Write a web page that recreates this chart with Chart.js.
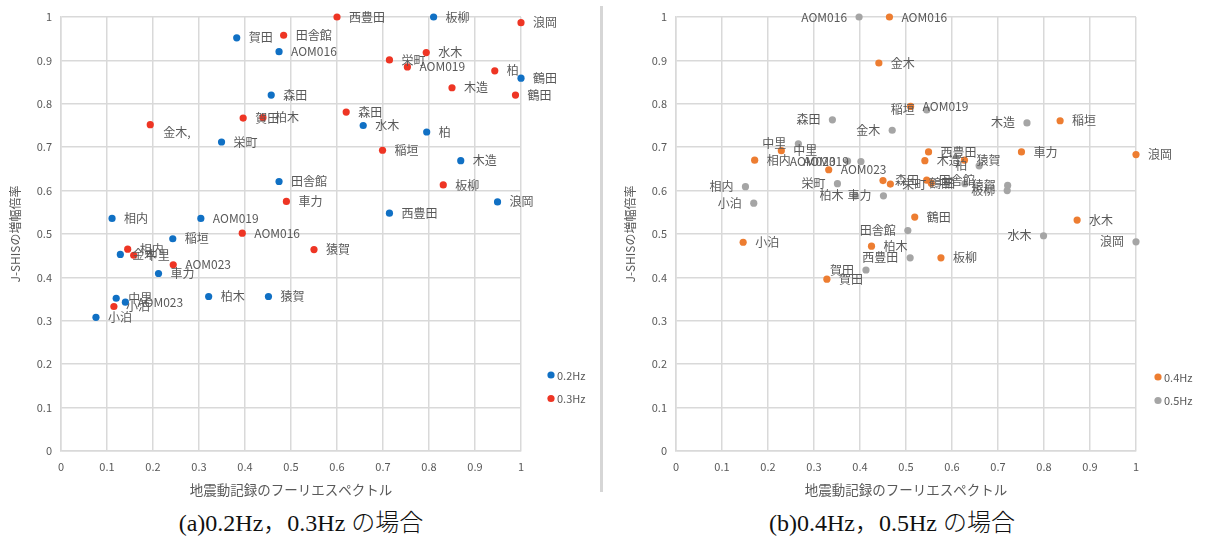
<!DOCTYPE html>
<html>
<head>
<meta charset="utf-8">
<script src="https://cdn.jsdelivr.net/npm/chart.js@4.4.1/dist/chart.umd.min.js"></script>
<style>
  html, body { margin: 0; padding: 0; background: #fff; }
  body { width: 1209px; height: 538px; position: relative; overflow: hidden; }
  #chartA { position: absolute; left: 0; top: 0; }
  #chartB { position: absolute; left: 615px; top: 0; }
  .divider { position: absolute; left: 600px; top: 6px; width: 3px; height: 486px; background: #d6d6d6; }
  .caption {
    position: absolute; top: 507px; line-height: 32px; white-space: nowrap;
    transform: translateX(-50%); color: #111; font-size: 24px; font-weight: 300;
    font-family: "Liberation Serif", "DejaVu Serif", "Noto Sans CJK JP", serif;
  }
</style>
</head>
<body>
<canvas id="chartA" width="600" height="505"></canvas>
<div class="divider"></div>
<canvas id="chartB" width="594" height="505"></canvas>
<div class="caption" style="left:301px">(a)0.2Hz，0.3Hz の場合</div>
<div class="caption" style="left:892px">(b)0.4Hz，0.5Hz の場合</div>

<script>
// Observation sites (same order in every series below)
const stations = ['AOM016', 'AOM019', 'AOM023', '賀田', '森田', '栄町', '田舎館', '相内', '板柳', '鶴田', '水木',
                  '柏', '木造', '浪岡', '西豊田', '稲垣', '金木', '車力', '柏木', '猿賀', '中里', '小泊'];

// Site names as printed next to the 0.3Hz points
const labels03 = ['AOM016', 'AOM019', 'AOM023', '賀田', '森田', '栄町', '田舎館', '相内', '板柳', '鶴田', '水木',
                  '柏', '木造', '浪岡', '西豊田', '稲垣', '金木,', '車力', '柏木', '猿賀', '中里', '小泊'];

// Fourier spectrum of the ground-motion records (x) and J-SHIS amplification factor (y)
const x02 = [0.474, 0.304, 0.140, 0.382, 0.457, 0.349, 0.474, 0.111, 0.810, 1.000, 0.657,
             0.795, 0.869, 0.949, 0.714, 0.243, 0.129, 0.212, 0.321, 0.451, 0.120, 0.076];
const y02 = [0.920, 0.536, 0.343, 0.952, 0.820, 0.712, 0.621, 0.536, 1.000, 0.859, 0.750,
             0.735, 0.669, 0.574, 0.548, 0.489, 0.453, 0.409, 0.356, 0.356, 0.352, 0.308];

const x03 = [0.394, 0.753, 0.244, 0.396, 0.620, 0.714, 0.484, 0.145, 0.831, 0.988, 0.794,
             0.943, 0.850, 1.000, 0.600, 0.699, 0.194, 0.490, 0.439, 0.550, 0.158, 0.115];
const y03 = [0.502, 0.885, 0.429, 0.767, 0.781, 0.901, 0.958, 0.465, 0.613, 0.820, 0.918,
             0.876, 0.837, 0.987, 1.000, 0.693, 0.752, 0.575, 0.768, 0.464, 0.451, 0.333];

const x04 = [0.464, 0.510, 0.332, 0.328, 0.450, 0.466, 0.545, 0.171, 0.576, 0.519, 0.872,
             0.555, 0.541, 1.000, 0.549, 0.835, 0.441, 0.751, 0.425, 0.627, 0.229, 0.146];
const y04 = [1.000, 0.794, 0.648, 0.396, 0.623, 0.615, 0.624, 0.670, 0.445, 0.539, 0.532,
             0.617, 0.669, 0.683, 0.689, 0.761, 0.894, 0.689, 0.472, 0.670, 0.692, 0.481];

const x05 = [0.398, 0.402, 0.373, 0.413, 0.340, 0.351, 0.504, 0.151, 0.720, 0.628, 0.799,
             0.659, 0.763, 1.000, 0.509, 0.545, 0.470, 0.451, 0.390, 0.721, 0.266, 0.169];
const y05 = [1.000, 0.667, 0.668, 0.417, 0.763, 0.616, 0.508, 0.609, 0.600, 0.616, 0.496,
             0.657, 0.756, 0.482, 0.445, 0.786, 0.739, 0.588, 0.588, 0.612, 0.708, 0.571];

// Axis tick values (both axes, both charts)
const tickValues = [0, 0.1, 0.2, 0.3, 0.4, 0.5, 0.6, 0.7, 0.8, 0.9, 1];

const xTitle = '地震動記録のフーリエスペクトル';
const yTitle = 'J-SHISの増幅倍率';

const FONT = '"Noto Sans CJK JP", "Noto Sans", sans-serif';
const TEXT = '#595959';
const GRID = '#d9d9d9';

// Writes each site name beside its point
const pointLabels = {
  id: 'pointLabels',
  afterDatasetsDraw(chart, args, opts) {
    const ctx = chart.ctx;
    ctx.save();
    ctx.font = '12px ' + FONT;
    ctx.fillStyle = TEXT;
    ctx.textBaseline = 'middle';
    chart.data.datasets.forEach((ds, di) => {
      const meta = chart.getDatasetMeta(di);
      const side = opts.sides[di];
      const nudge = (opts.nudge && opts.nudge[di]) || {};
      meta.data.forEach((pt, i) => {
        const name = ds.data[i].name;
        const [dx, dy] = nudge[name] || [0, 0];
        ctx.textAlign = side === 'left' ? 'right' : 'left';
        const gx = side === 'left' ? -12 : 12;
        ctx.fillText(name, pt.x + gx + dx, pt.y + dy);
      });
    });
    ctx.restore();
  }
};

// Small legend to the right of the plot, near its lower end
const sideLegend = {
  id: 'sideLegend',
  afterDraw(chart, args, opts) {
    const ctx = chart.ctx;
    const area = chart.chartArea;
    ctx.save();
    ctx.font = '11px ' + FONT;
    ctx.textBaseline = 'middle';
    ctx.textAlign = 'left';
    chart.data.datasets.forEach((ds, di) => {
      const cx = area.right + opts.offsetX;
      const cy = area.bottom - opts.fromBottom + di * 23.5;
      ctx.fillStyle = ds.backgroundColor;
      ctx.beginPath();
      ctx.arc(cx, cy, 3.6, 0, Math.PI * 2);
      ctx.fill();
      ctx.fillStyle = TEXT;
      ctx.fillText(ds.label, cx + 6, cy + 0.5);
    });
    ctx.restore();
  }
};

function axis(title, isX) {
  return {
    type: 'linear',
    min: 0,
    max: 1,
    afterBuildTicks: sc => { sc.ticks = tickValues.map(v => ({ value: v })); },
    afterFit: sc => { if (isX) sc.height = 54; else sc.width = 61; },
    grid: { color: GRID, lineWidth: 1.5, drawTicks: false },
    border: { color: GRID, width: 1.5 },
    ticks: { padding: 9, color: TEXT, font: { family: FONT, size: 11 }, callback: v => String(v), maxRotation: 0 },
    title: {
      display: true, text: title, color: TEXT,
      font: { family: FONT, size: isX ? 13.5 : 12 },
      padding: isX ? { bottom: 7, top: 0 } : { top: 8, bottom: 0 }
    }
  };
}

function makeChart(canvas, series, labelOpts, legendOpts, rightPad) {
  return new Chart(canvas, {
    type: 'scatter',
    data: {
      datasets: series.map(s => ({
        label: s.label,
        data: s.xs.map((x, i) => ({ x: x, y: s.ys[i], name: s.names[i] })),
        backgroundColor: s.color,
        borderWidth: 0,
        pointRadius: 3.6,
        pointHoverRadius: 3.6,
        order: s.order,
        clip: false
      }))
    },
    options: {
      responsive: false,
      animation: false,
      devicePixelRatio: 1,
      layout: { padding: { top: 17, right: rightPad, left: 0, bottom: 0 } },
      scales: { x: axis(xTitle, true), y: axis(yTitle, false) },
      plugins: {
        legend: { display: false },
        tooltip: { enabled: false },
        pointLabels: labelOpts,
        sideLegend: legendOpts
      }
    },
    plugins: [pointLabels, sideLegend]
  });
}

makeChart(document.getElementById('chartA'), [
  { label: '0.2Hz', xs: x02, ys: y02, names: stations, color: '#1070C4', order: 2 },
  { label: '0.3Hz', xs: x03, ys: y03, names: labels03, color: '#EE3524', order: 1 }
], { sides: ['right', 'right'], nudge: { 1: { '金木,': [1, 8] } } },
   { offsetX: 30, fromBottom: 76 }, 79);

makeChart(document.getElementById('chartB'), [
  { label: '0.4Hz', xs: x04, ys: y04, names: stations, color: '#ED7D31', order: 2 },
  { label: '0.5Hz', xs: x05, ys: y05, names: stations, color: '#A5A5A5', order: 1 }
], { sides: ['right', 'left'] },
   { offsetX: 22, fromBottom: 74 }, 73);
</script>
</body>
</html>
